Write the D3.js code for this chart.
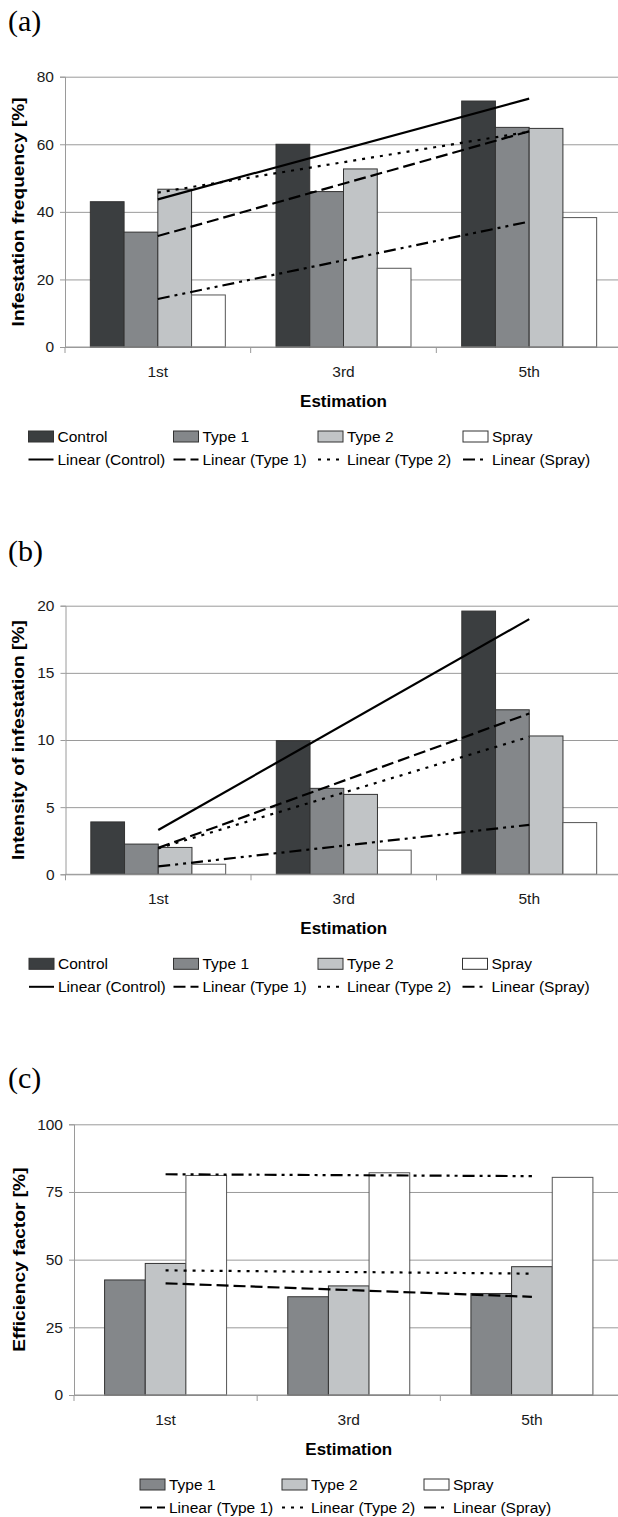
<!DOCTYPE html>
<html>
<head>
<meta charset="utf-8">
<script src="https://cdn.jsdelivr.net/npm/d3@7"></script>
<style>
  body { margin: 0; background: #fff; }
  svg { display: block; font-family: "Liberation Sans", Arial, sans-serif; }
</style>
</head>
<body>
<div id="chart"></div>
<script>
// categories + series
const categories = ["1st", "3rd", "5th"];
const seriesAll = ["Control", "Type 1", "Type 2", "Spray"];
const seriesEff = ["Type 1", "Type 2", "Spray"];

// (a) infestation frequency [%]
const freqControl = [43, 60, 72.8];
const freqType1 = [34, 46, 65];
const freqType2 = [46.7, 52.7, 64.7];
const freqSpray = [15.4, 23.3, 38.3];
const freqTicks = [0, 20, 40, 60, 80];

// (b) intensity of infestation [%]
const intControl = [3.9, 9.95, 19.6];
const intType1 = [2.25, 6.4, 12.25];
const intType2 = [2.0, 5.95, 10.3];
const intSpray = [0.75, 1.8, 3.85];
const intTicks = [0, 5, 10, 15, 20];

// (c) efficiency factor [%]
const effType1 = [42.5, 36.3, 37.5];
const effType2 = [48.6, 40.3, 47.4];
const effSpray = [81.1, 82.1, 80.4];
const effTicks = [0, 25, 50, 75, 100];

const W = 618, H = 1517;

const fills = {"Control": "#3b3e40", "Type 1": "#84878a", "Type 2": "#c1c4c6", "Spray": "#ffffff"};
const dashes = {"Control": null, "Type 1": "12,5", "Type 2": "3,6", "Spray": "12,5,3,5,3,5"};

const svg = d3.select("#chart").append("svg")
    .attr("width", W)
    .attr("height", H);

// excel style linear trend on x = 1..n
function linearFit(vals) {
    const n = vals.length;
    const xs = vals.map((d, i) => i + 1);
    const mx = d3.mean(xs), my = d3.mean(vals);
    let sxy = 0, sxx = 0;
    for (let i = 0; i < n; i++) {
        sxy += (xs[i] - mx) * (vals[i] - my);
        sxx += (xs[i] - mx) * (xs[i] - mx);
    }
    const b = sxy / sxx;
    return vals.map((d, i) => my + b * (xs[i] - mx));
}

function drawPanel(p) {
    const g = svg.append("g");

    // panel letter
    g.append("text")
        .attr("x", 8)
        .attr("y", p.labelY)
        .style("font-family", "'Liberation Serif', 'Times New Roman', serif")
        .style("font-size", "30px")
        .text(p.label);

    const x0 = d3.scaleBand()
        .domain(categories)
        .range([p.left, p.right]);
    const bw = x0.bandwidth();
    const gap = bw * (1 - p.groupFrac);
    const x1 = d3.scaleBand()
        .domain(p.series)
        .range([gap / 2, bw - gap / 2]);
    const y = d3.scaleLinear()
        .domain([0, d3.max(p.ticks)])
        .range([p.bottom, p.top]);

    // gridlines
    g.append("g")
        .attr("transform", `translate(${p.left},0)`)
        .call(d3.axisLeft(y).tickValues(p.ticks).tickSize(-(p.right - p.left)).tickFormat(""))
        .call(a => a.select(".domain").remove())
        .call(a => a.selectAll("line").attr("stroke", "#9a9a9a"));

    // y ticks + labels
    g.append("g")
        .attr("transform", `translate(${p.left},0)`)
        .call(d3.axisLeft(y).tickValues(p.ticks).tickSize(5).tickPadding(6))
        .call(a => a.select(".domain").attr("stroke", "#9a9a9a"))
        .call(a => a.selectAll("line").attr("stroke", "#9a9a9a"))
        .call(a => a.selectAll("text")
            .style("font-size", "15.5px")
            .style("font-family", "'Liberation Sans', Arial, sans-serif")
            .attr("fill", "#1a1a1a"));

    // bars
    const rows = categories.map((c, i) => ({
        cat: c,
        vals: p.series.map((s, j) => ({series: s, value: p.values[j][i]}))
    }));
    g.append("g")
        .selectAll("g")
        .data(rows)
        .join("g")
        .attr("transform", d => `translate(${x0(d.cat)},0)`)
        .selectAll("rect")
        .data(d => d.vals)
        .join("rect")
        .attr("x", d => x1(d.series))
        .attr("y", d => y(d.value))
        .attr("width", x1.bandwidth())
        .attr("height", d => y(0) - y(d.value))
        .attr("fill", d => fills[d.series])
        .attr("stroke", d => d.series === "Spray" ? "#555" : "#333")
        .attr("stroke-width", 1);

    // x axis: line, boundary ticks, labels
    g.append("line")
        .attr("x1", p.left).attr("x2", p.right)
        .attr("y1", y(0)).attr("y2", y(0))
        .attr("stroke", "#9a9a9a");
    const bounds = categories.map(c => x0(c)).concat([p.right]);
    g.append("g")
        .selectAll("line")
        .data(bounds)
        .join("line")
        .attr("x1", d => d).attr("x2", d => d)
        .attr("y1", y(0)).attr("y2", y(0) + 6)
        .attr("stroke", "#9a9a9a");
    g.append("g")
        .attr("transform", `translate(0,${y(0)})`)
        .call(d3.axisBottom(x0).tickSize(0).tickPadding(19))
        .call(a => a.select(".domain").remove())
        .call(a => a.selectAll("text")
            .style("font-size", "15.5px")
            .style("font-family", "'Liberation Sans', Arial, sans-serif")
            .attr("fill", "#1a1a1a"));

    // trend lines
    const line = d3.line().x(d => d[0]).y(d => d[1]);
    p.series.forEach((s, j) => {
        if (s === "Control" && !p.trendControl) return;
        const fit = linearFit(p.values[j]);
        const pts = [0, categories.length - 1].map(i => [x0(categories[i]) + bw / 2, y(fit[i])]);
        g.append("path")
            .attr("d", line(pts))
            .attr("fill", "none")
            .attr("stroke", "#000")
            .attr("stroke-width", 2.2)
            .attr("stroke-dasharray", dashes[s]);
    });

    // axis titles
    g.append("text")
        .attr("transform", `translate(${p.yTitleX},${(p.top + p.bottom) / 2}) rotate(-90) scale(1.2,1)`)
        .attr("text-anchor", "middle")
        .attr("dy", "0.35em")
        .style("font-size", "16px")
        .style("font-weight", "bold")
        .text(p.yTitle);
    g.append("text")
        .attr("x", (p.left + p.right) / 2)
        .attr("y", p.bottom + 54)
        .attr("text-anchor", "middle")
        .attr("dy", "0.35em")
        .style("font-size", "17px")
        .style("font-weight", "bold")
        .text("Estimation");

    // legend
    const r1 = p.bottom + 89.5, r2 = p.bottom + 112.5;
    p.series.forEach((s, j) => {
        const cx = p.legendCols[j];
        g.append("rect")
            .attr("x", cx).attr("y", r1 - 5.5)
            .attr("width", 25).attr("height", 11)
            .attr("fill", fills[s])
            .attr("stroke", "#333");
        g.append("text")
            .attr("x", cx + 29).attr("y", r1)
            .attr("dy", "0.35em")
            .style("font-size", "15.5px")
            .text(s);
        g.append("line")
            .attr("x1", cx).attr("x2", cx + 25)
            .attr("y1", r2).attr("y2", r2)
            .attr("stroke", "#000")
            .attr("stroke-width", 2)
            .attr("stroke-dasharray", dashes[s]);
        g.append("text")
            .attr("x", cx + 29).attr("y", r2)
            .attr("dy", "0.35em")
            .style("font-size", "15.5px")
            .text(`Linear (${s})`);
    });
}

drawPanel({
    label: "(a)", labelY: 31,
    series: seriesAll,
    values: [freqControl, freqType1, freqType2, freqSpray],
    ticks: freqTicks,
    left: 65, right: 622, top: 76.7, bottom: 347,
    groupFrac: 0.727, trendControl: true,
    yTitle: "Infestation frequency [%]", yTitleX: 18.5,
    legendCols: [28.5, 173.5, 318, 463]
});

drawPanel({
    label: "(b)", labelY: 561,
    series: seriesAll,
    values: [intControl, intType1, intType2, intSpray],
    ticks: intTicks,
    left: 65.5, right: 622, top: 605.7, bottom: 874.3,
    groupFrac: 0.727, trendControl: true,
    yTitle: "Intensity of infestation [%]", yTitleX: 18.5,
    legendCols: [29, 173.5, 318, 462.5]
});

drawPanel({
    label: "(c)", labelY: 1088,
    series: seriesEff,
    values: [effType1, effType2, effSpray],
    ticks: effTicks,
    left: 74, right: 623.5, top: 1124.3, bottom: 1395,
    groupFrac: 0.666, trendControl: false,
    yTitle: "Efficiency factor [%]", yTitleX: 19,
    legendCols: [140, 282, 424]
});
</script>
</body>
</html>
